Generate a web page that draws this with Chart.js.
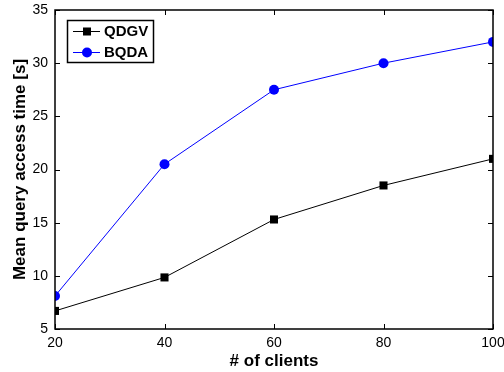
<!DOCTYPE html>
<html>
<head>
<meta charset="utf-8">
<script src="https://cdn.jsdelivr.net/npm/chart.js@4/dist/chart.umd.min.js"></script>
<style>
  html, body { margin: 0; padding: 0; background: #fff; }
  #wrap { width: 504px; height: 372px; }
</style>
</head>
<body>
<div id="wrap"><canvas id="c" width="504" height="372"></canvas></div>
<script>
// data
var clients = [20, 40, 60, 80, 100];
var qdgv = [6.7, 9.85, 15.3, 18.5, 21.0];
var bqda = [8.1, 20.5, 27.5, 30.0, 32.0];
var xTicks = [20, 40, 60, 80, 100];
var yTicks = [5, 10, 15, 20, 25, 30, 35];

var FONT = "'Liberation Sans', Arial, Helvetica, sans-serif";

function toPoints(xs, ys){
  var out = [];
  for (var i = 0; i < xs.length; i++) out.push({x: xs[i], y: ys[i]});
  return out;
}

// matlab style box with inward ticks on all sides
var boxPlugin = {
  id: 'box',
  afterDraw: function(chart){
    var ctx = chart.ctx, a = chart.chartArea;
    var xs = chart.scales.x, ys = chart.scales.y;
    ctx.save();
    ctx.strokeStyle = '#000';
    ctx.lineWidth = 1;
    var tl = 5;
    ctx.beginPath();
    xTicks.forEach(function(v){
      var px = Math.round(xs.getPixelForValue(v)) + 0.5;
      ctx.moveTo(px, a.bottom); ctx.lineTo(px, a.bottom - tl);
      ctx.moveTo(px, a.top); ctx.lineTo(px, a.top + tl);
    });
    yTicks.forEach(function(v){
      var py = Math.round(ys.getPixelForValue(v)) + 0.5;
      ctx.moveTo(a.left, py); ctx.lineTo(a.left + tl, py);
      ctx.moveTo(a.right, py); ctx.lineTo(a.right - tl, py);
    });
    ctx.stroke();
    ctx.lineWidth = 1.5;
    ctx.strokeRect(a.left, a.top, a.right - a.left, a.bottom - a.top);

    // legend
    var lx = 67, ly = 20, lw = 86, lh = 42;
    ctx.fillStyle = '#fff';
    ctx.fillRect(lx, ly, lw, lh);
    ctx.lineWidth = 1.5;
    ctx.strokeRect(lx + 0.5, ly + 0.5, lw, lh);
    ctx.font = 'bold 15px ' + FONT;
    ctx.textBaseline = 'middle';
    ctx.textAlign = 'left';
    chart.data.datasets.forEach(function(ds, i){
      var cy = ly + 11 + i * 21;
      ctx.strokeStyle = ds.borderColor;
      ctx.lineWidth = 1;
      ctx.beginPath();
      ctx.moveTo(lx + 6, cy + 0.5); ctx.lineTo(lx + 33, cy + 0.5);
      ctx.stroke();
      ctx.fillStyle = ds.pointBackgroundColor;
      if (ds.pointStyle === 'rect'){
        ctx.fillRect(lx + 16, cy - 3.5, 8, 8);
      } else {
        ctx.beginPath();
        ctx.arc(lx + 20, cy + 0.5, 5, 0, Math.PI * 2);
        ctx.fill();
      }
      ctx.fillStyle = '#000';
      ctx.fillText(ds.label, lx + 37, cy + 1);
    });
    ctx.restore();
  }
};

var ctx = document.getElementById('c').getContext('2d');
new Chart(ctx, {
  type: 'line',
  data: {
    datasets: [
      {
        label: 'QDGV',
        data: toPoints(clients, qdgv),
        borderColor: '#000',
        backgroundColor: '#000',
        pointBackgroundColor: '#000',
        pointBorderColor: '#000',
        borderWidth: 1,
        pointStyle: 'rect',
        pointRadius: 5.7,
        pointBorderWidth: 0,
        tension: 0
      },
      {
        label: 'BQDA',
        data: toPoints(clients, bqda),
        borderColor: '#0000ff',
        backgroundColor: '#0000ff',
        pointBackgroundColor: '#0000ff',
        pointBorderColor: '#0000ff',
        borderWidth: 1,
        pointStyle: 'circle',
        pointRadius: 5,
        pointBorderWidth: 0,
        tension: 0
      }
    ]
  },
  options: {
    responsive: false,
    animation: false,
    layout: { padding: { top: 10, right: 11, left: 10, bottom: 0 } },
    plugins: { legend: { display: false }, tooltip: { enabled: false } },
    scales: {
      x: {
        type: 'linear',
        min: 20, max: 100,
        afterBuildTicks: function(s){ s.ticks = xTicks.map(function(v){ return {value: v}; }); },
        afterFit: function(s){ s.height = 43; s.paddingLeft = 0; s.paddingRight = 0; },
        grid: { display: false, drawTicks: false },
        border: { display: false },
        ticks: { color: '#000', font: { family: FONT, size: 14 }, padding: 6, maxRotation: 0, autoSkip: false },
        title: { display: true, text: '# of clients', color: '#000', font: { family: FONT, size: 17, weight: 'bold' }, padding: { top: 0, bottom: 0 } }
      },
      y: {
        min: 5, max: 35,
        afterBuildTicks: function(s){ s.ticks = yTicks.map(function(v){ return {value: v}; }); },
        afterFit: function(s){ s.width = 45; s.paddingTop = 0; s.paddingBottom = 0; },
        grid: { display: false, drawTicks: false },
        border: { display: false },
        ticks: { color: '#000', font: { family: FONT, size: 14 }, padding: 7 },
        title: { display: true, text: 'Mean query access time [s]', color: '#000', font: { family: FONT, size: 17, weight: 'bold' }, padding: { top: 0, bottom: 0 } }
      }
    }
  },
  plugins: [boxPlugin]
});
</script>
</body>
</html>
